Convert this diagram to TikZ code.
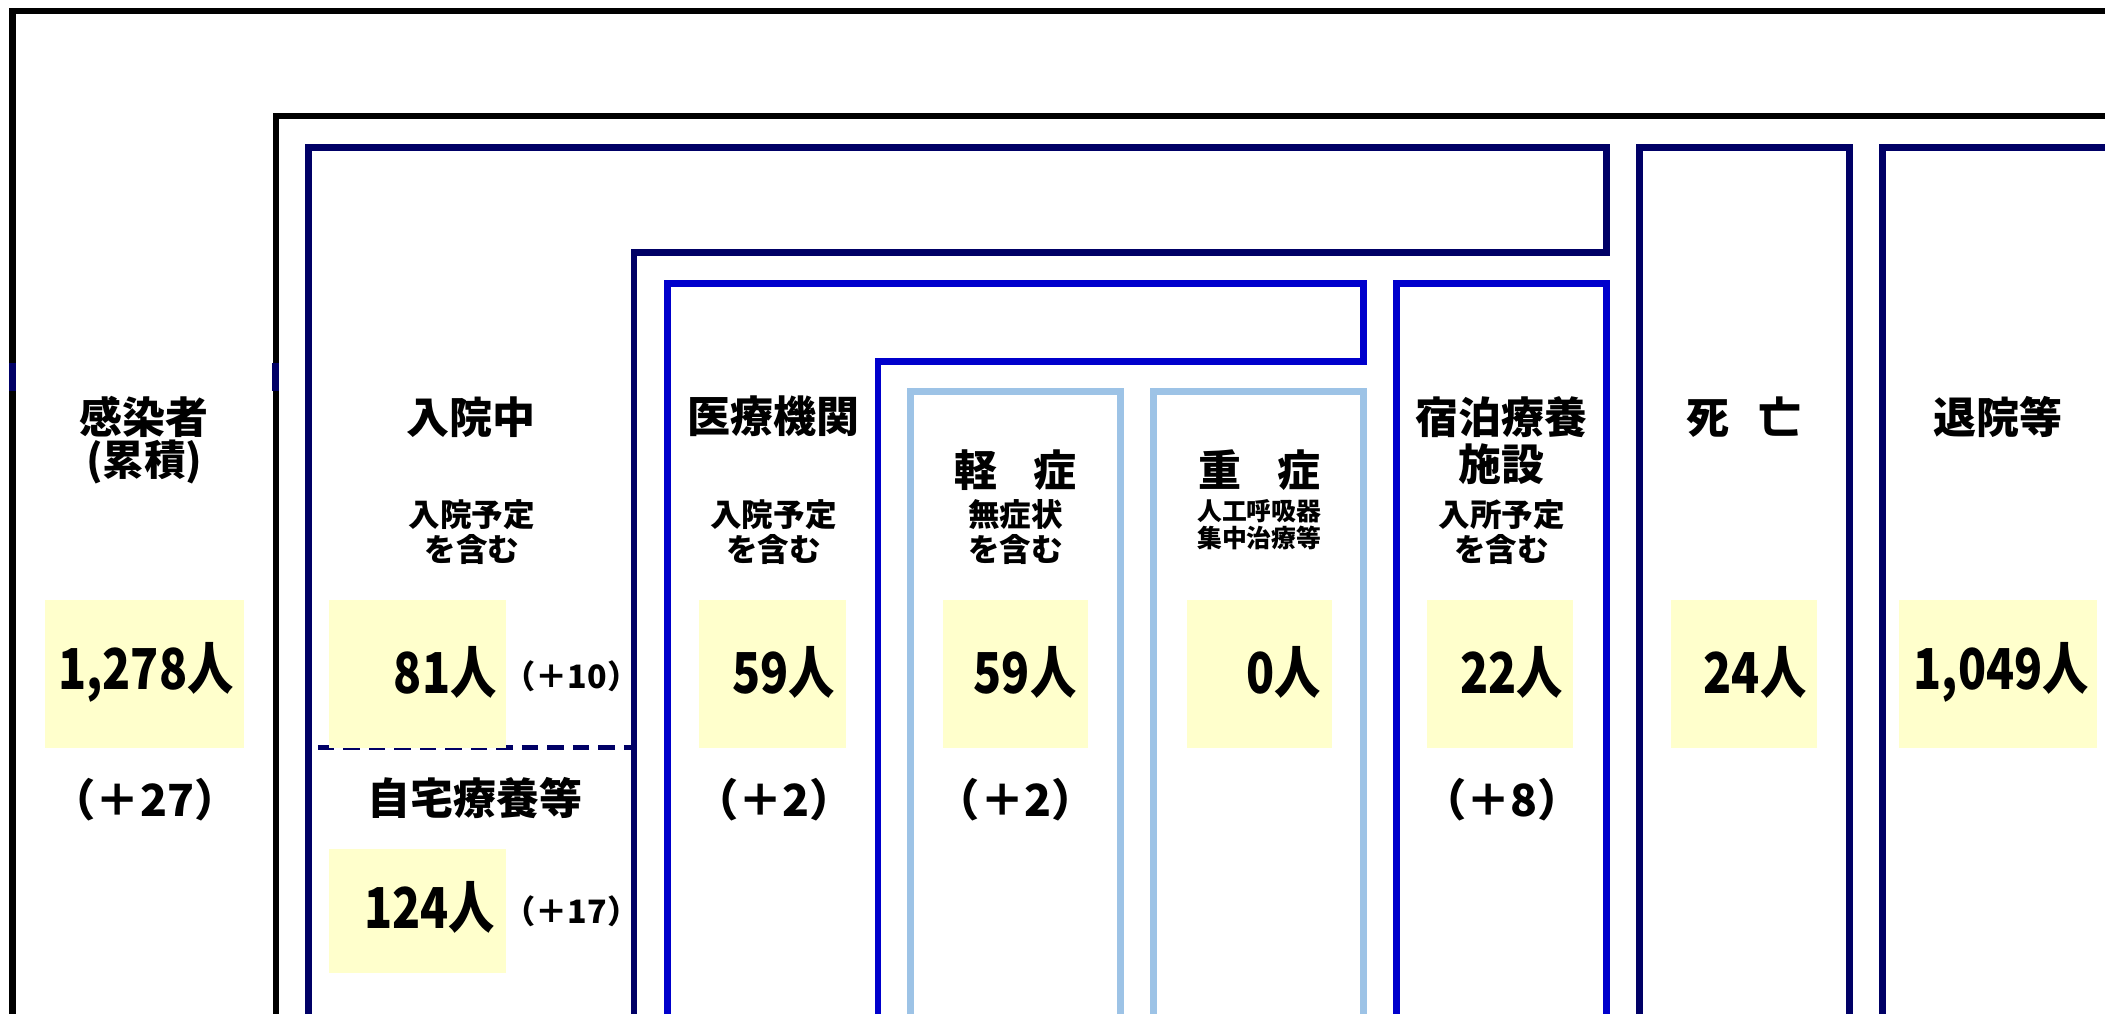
\documentclass[tikz,border=0pt]{standalone}
\usepackage{fontspec}
\setmainfont{Noto Sans CJK JP}
\newfontfamily\numfont{Noto Sans CJK JP}[FakeStretch=0.82]
\definecolor{navyc}{HTML}{000066}
\definecolor{bluec}{HTML}{0000CC}
\definecolor{lbluec}{HTML}{9DC3E6}
\definecolor{yelc}{HTML}{FFFFCC}
\tikzset{
  blk/.style={draw=black, line width=4.8pt, line join=miter},
  nav/.style={draw=navyc, line width=5pt, line join=miter},
  blu/.style={draw=bluec, line width=5pt, line join=miter},
  lbl/.style={draw=lbluec, line width=5pt, line join=miter},
  head/.style={font=\bfseries\fontsize{32}{35.3}\selectfont, align=center, inner sep=0pt},
  sublab/.style={font=\bfseries\fontsize{23.5}{26}\selectfont, align=center, inner sep=0pt},
  tinylab/.style={font=\bfseries\fontsize{18.5}{20}\selectfont, align=center, inner sep=0pt},
  ybox/.style={fill=yelc, draw=none, inner sep=0pt, minimum height=110pt},
  numtxt/.style={font=\numfont\bfseries\fontsize{42}{44}\selectfont, inner sep=0pt, anchor=east},
  diff/.style={font=\bfseries\fontsize{33}{35}\selectfont, inner sep=0pt},
  diffs/.style={font=\bfseries\fontsize{24}{26}\selectfont, inner sep=0pt},
}
\begin{document}
\begin{tikzpicture}[x=1pt,y=-1pt]
\useasboundingbox (0,0) rectangle (1568,754.6);
\clip (0,0) rectangle (1568,754.6);
% frames
\draw[blk] (9.3,800) -- (9.3,8.2) -- (1600,8.2);
\draw[blk] (205.4,800) -- (205.4,86.6) -- (1600,86.6);
\draw[navyc, line width=5pt] (9.3,270.5) -- (9.3,291);
\draw[navyc, line width=5pt] (205.4,270.5) -- (205.4,291);
\draw[nav] (229.7,800) -- (229.7,109.9) -- (1196.5,109.9) -- (1196.5,188.2) -- (472.3,188.2) -- (472.3,800);
\draw[blu] (497.1,800) -- (497.1,211) -- (1015.6,211) -- (1015.6,269.4) -- (653.9,269.4) -- (653.9,800);
\draw[lbl] (678.4,800) -- (678.4,291.8) -- (834.7,291.8) -- (834.7,800);
\draw[lbl] (859.1,800) -- (859.1,291.8) -- (1015.6,291.8) -- (1015.6,800);
\draw[blu] (1040.4,800) -- (1040.4,211) -- (1196.5,211) -- (1196.5,800);
\draw[nav] (1221.3,800) -- (1221.3,109.9) -- (1377.5,109.9) -- (1377.5,800);
\draw[nav] (1402.2,800) -- (1402.2,109.9) -- (1600,109.9);
% dashed separator
\coordinate (dA) at (236.8,556.8);
\coordinate (dB) at (470,556.8);
\draw[navyc, line width=3.8pt, dash pattern=on 12pt off 7pt] (dA) -- (dB);
% headings
\node[head] (hKansen) at (107.5,310.4) {感染者};
\node[head, font=\bfseries\fontsize{31}{34}\selectfont] (hRuiseki) at (107.5,344) {(累積)};
\node[head] (hNyuin) at (350.8,310.4) {入院中};
\node[sublab] (sNyuin) at (351.5,396.6) {入院予定\\を含む};
\node[head] (hIryo) at (576.2,310.4) {医療機関};
\node[sublab] (sIryo) at (576.2,396.6) {入院予定\\を含む};
\node[head] (hKei) at (756.6,350) {軽\hspace{27pt}症};
\node[sublab] (sKei) at (756.6,396.6) {無症状\\を含む};
\node[head] (hJu) at (938,350) {重\hspace{27pt}症};
\node[tinylab] (sJu) at (938,391) {人工呼吸器\\集中治療等};
\node[head] (hShuku) at (1118.6,328) {宿泊療養\\施設};
\node[sublab] (sShuku) at (1118.6,396.6) {入所予定\\を含む};
\node[head] (hShibo) at (1299,310.4) {死\hspace{22pt}亡};
\node[head] (hTaiin) at (1488.5,310.4) {退院等};
\node[head] (hJitaku) at (354,594.5) {自宅療養等};
% yellow number boxes
\node[ybox, minimum width=148.7pt] (b1) at (107.55,502) {};
\node[ybox, minimum width=131.4pt] (b81) at (311.1,502) {};
\node[ybox, minimum width=109pt] (b59a) at (575.5,502) {};
\node[ybox, minimum width=108.4pt] (b59b) at (756.5,502) {};
\node[ybox, minimum width=108pt] (b0) at (938,502) {};
\node[ybox, minimum width=108.8pt] (b22) at (1117.6,502) {};
\node[ybox, minimum width=109.1pt] (b24) at (1298.95,502) {};
\node[ybox, minimum width=147.5pt] (b1049) at (1488.25,502) {};
\node[ybox, minimum width=131.4pt, minimum height=92.6pt] (b124) at (311.1,678.7) {};
\node[numtxt] (n1) at ([xshift=-8pt,yshift=1pt]b1.east) {1,278人};
\node[numtxt] (n81) at ([xshift=-7pt,yshift=1pt]b81.east) {81人};
\node[numtxt] (n59a) at ([xshift=-8pt,yshift=1pt]b59a.east) {59人};
\node[numtxt] (n59b) at ([xshift=-9pt,yshift=1pt]b59b.east) {59人};
\node[numtxt] (n0) at ([xshift=-8pt,yshift=1pt]b0.east) {0人};
\node[numtxt] (n22) at ([xshift=-8pt,yshift=1pt]b22.east) {22人};
\node[numtxt] (n24) at ([xshift=-8pt,yshift=1pt]b24.east) {24人};
\node[numtxt] (n1049) at ([xshift=-6pt,yshift=1pt]b1049.east) {1,049人};
\node[numtxt] (n124) at ([xshift=-8pt,yshift=3pt]b124.east) {124人};
% differences
\node[diff] (d27) at (108,596) {（＋27）};
\node[diff] (d2a) at (576.5,596) {（＋2）};
\node[diff] (d2b) at (756.6,596) {（＋2）};
\node[diff] (d8) at (1119,596) {（＋8）};
\node[diffs] (d10) at (425.6,504) {（＋10）};
\node[diffs] (d17) at (425.6,679) {（＋17）};
\end{tikzpicture}
\end{document}
